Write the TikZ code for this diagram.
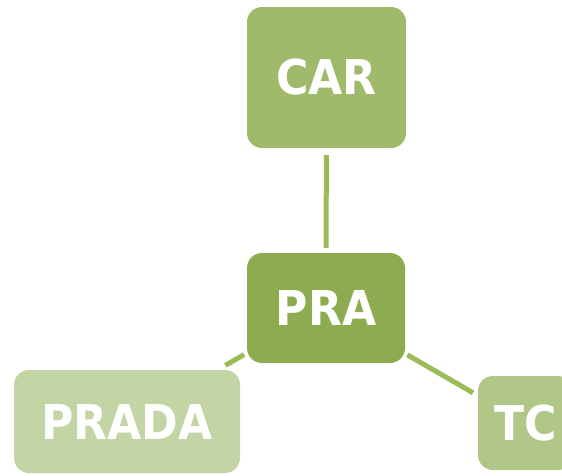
\documentclass[tikz,border=0pt]{standalone}
\usepackage{fontspec}
\newfontfamily\boxfont[FakeStretch=0.92]{DejaVu Sans Bold}
\definecolor{carc}{HTML}{9FBA6B}
\definecolor{prac}{HTML}{8DAB4F}
\definecolor{pradac}{HTML}{C3D4A5}
\definecolor{tcc}{HTML}{B0C788}
\definecolor{linec}{HTML}{9BBB59}
\begin{document}
\begin{tikzpicture}[x=1pt,y=-1pt,
  gbox/.style={rectangle, rounded corners=15pt, inner sep=0pt, text=white,
    font=\boxfont\fontsize{48}{48}\selectfont},
  link/.style={draw=linec, line width=5pt}]
\useasboundingbox (0,0) rectangle (562,475);
\begin{scope}
\clip (0,0) rectangle (562,475);
\node[gbox, fill=carc, minimum width=159pt, minimum height=141pt] (car) at (326.5,77.5) {CAR};
\node[gbox, fill=prac, minimum width=158pt, minimum height=110pt] (pra) at (326,308) {PRA};
\node[gbox, fill=pradac, minimum width=226pt, minimum height=103pt] (prada) at (127,421.5) {PRADA};
\node[gbox, fill=tcc, minimum width=95pt, minimum height=94pt] (tc) at (525.5,423) {TC};
\draw[link, shorten <=7pt, shorten >=5pt] (car) -- (pra);
\draw[link, shorten <=2.5pt, shorten >=5.5pt] (pra) -- (tc);
\draw[link, shorten <=3pt, shorten >=9pt] (pra) -- (prada);
\end{scope}
\end{tikzpicture}
\end{document}
